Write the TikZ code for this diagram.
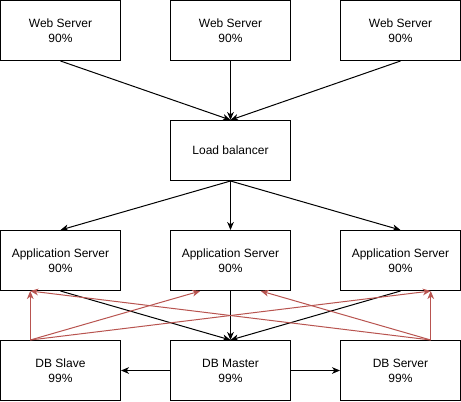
\documentclass[tikz,border=0pt]{standalone}
\usepackage{fontspec}
\setmainfont{Liberation Sans}
\usetikzlibrary{arrows.meta,calc}

\definecolor{replred}{RGB}{184,84,80}
\tikzset{
	server/.style={draw, line width=0.75pt, minimum width=90pt, minimum height=45pt, inner sep=0pt, align=center, font=\fontsize{9}{11.25}\selectfont},
	link/.style={line width=0.75pt, -{Stealth[length=6pt,width=5pt,inset=1.8pt]}},
	backup/.style={link, draw=replred}
}

\begin{document}
\begin{tikzpicture}[x=0.75pt,y=-0.75pt]
	\useasboundingbox (0,0) rectangle (461,401);
	% Web Servers %
	\node[server] (web1) at (60.5,30.5) {Web Server\\90\%};
	\node[server] (web2) at (230.5,30.5) {Web Server\\90\%};
	\node[server] (web3) at (400.5,30.5) {Web Server\\90\%};
	% Load Balancer %
	\node[server] (lb) at (230.5,150.5) {Load balancer};
	% Application Servers %
	\node[server] (app1) at (60.5,260.5) {Application Server\\90\%};
	\node[server] (app2) at (230.5,260.5) {Application Server\\90\%};
	\node[server] (app3) at (400.5,260.5) {Application Server\\90\%};
	% Databases %
	\node[server] (slave) at (60.5,370.5) {DB Slave\\99\%};
	\node[server] (master) at (230.5,370.5) {DB Master\\99\%};
	\node[server] (dbserver) at (400.5,370.5) {DB Server\\99\%};
	% Traffic %
	\foreach \w in {web1, web2, web3}
		{\draw [link] (\w.south) -- (lb.north);}
	\foreach \a in {app1, app2, app3}
		{\draw [link] (lb.south) -- (\a.north);
		 \draw [link] (\a.south) -- (master.north);}
	\draw [link] (master.west) -- (slave.east);
	\draw [link] (master.east) -- (dbserver.west);
	% Replication %
	\foreach \s/\sp/\t/\tp in {slave/.25/app1/.25, slave/.25/app2/.25, slave/.25/app3/.75, dbserver/.75/app3/.75, dbserver/.75/app2/.75, dbserver/.75/app1/.25}
		{\draw [backup] ($(\s.north west)!\sp!(\s.north east)$) -- ($(\t.south west)!\tp!(\t.south east)$);}
\end{tikzpicture}
\end{document}
